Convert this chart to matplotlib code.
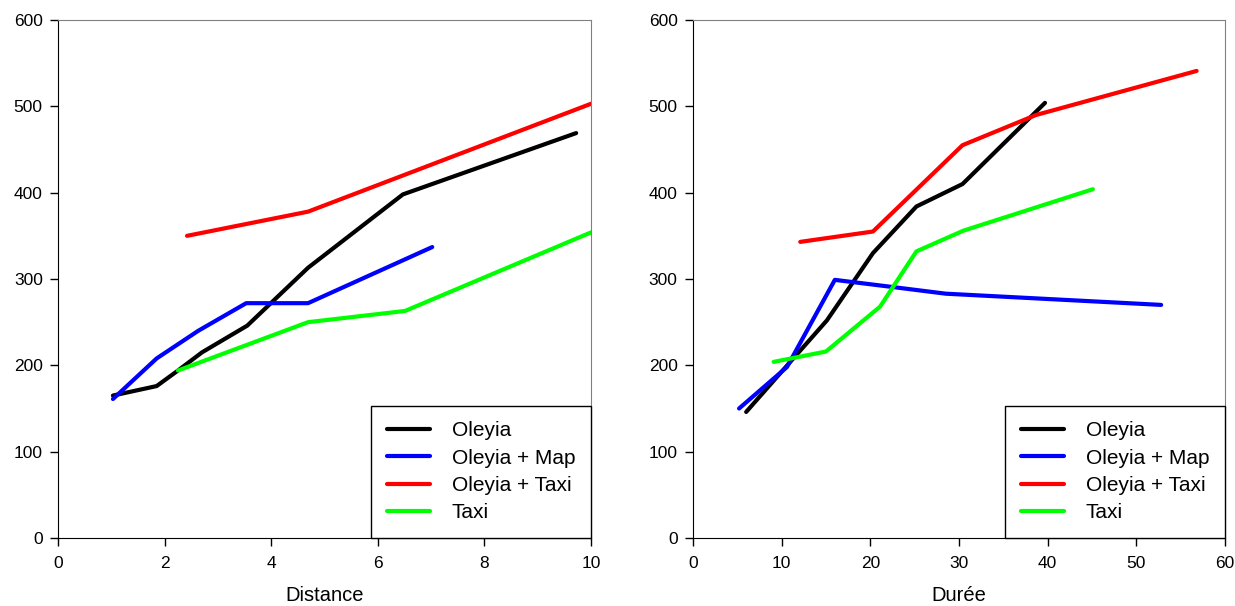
import matplotlib
matplotlib.use('Agg')
import matplotlib.pyplot as plt

plt.rcParams['font.family'] = ['Liberation Sans', 'DejaVu Sans']

# left panel: Distance
oleyia_dist_x = [1.03, 1.85, 2.25, 2.7, 3.55, 4.69, 6.47, 9.72]
oleyia_dist_y = [165, 176, 194, 215, 246, 313, 398, 469]
map_dist_x = [1.03, 1.85, 2.63, 3.53, 4.69, 7.02]
map_dist_y = [161, 208, 240, 272, 272, 337]
taxi_oleyia_dist_x = [2.42, 4.69, 10.0]
taxi_oleyia_dist_y = [350, 378, 503]
taxi_dist_x = [2.25, 4.69, 6.51, 10.0]
taxi_dist_y = [194, 250, 263, 354]

# right panel: Durée
oleyia_dur_x = [6.0, 10.2, 15.1, 20.3, 25.2, 30.4, 39.7]
oleyia_dur_y = [146, 195, 252, 330, 384, 410, 504]
map_dur_x = [5.2, 10.6, 16.0, 22.3, 28.5, 52.8]
map_dur_y = [150, 198, 299, 291, 283, 270]
taxi_oleyia_dur_x = [12.1, 20.3, 30.4, 38.7, 56.8]
taxi_oleyia_dur_y = [343, 355, 455, 490, 541]
taxi_dur_x = [9.1, 15.0, 21.1, 25.2, 30.5, 45.1]
taxi_dur_y = [204, 216, 268, 332, 356, 404]

labels = ['Oleyia', 'Oleyia + Map', 'Oleyia + Taxi', 'Taxi']
colors = ['black', 'blue', 'red', '#00ff00']


def draw_panel(ax, series, xmax, xstep, xlabel):
    for (xs, ys), lab, col in zip(series, labels, colors):
        ax.plot(xs, ys, color=col, linewidth=3, label=lab, solid_capstyle='round')
    ax.set_xlim(0, xmax)
    ax.set_ylim(0, 600)
    ax.set_xticks(range(0, xmax + 1, xstep))
    ax.set_yticks(range(0, 601, 100))
    ax.set_xlabel(xlabel, fontsize=14.5, labelpad=11)
    ax.tick_params(direction='out', length=6, width=1, labelsize=12.5, pad=5)
    ax.tick_params(axis='x', pad=7)
    for side in ['top', 'right']:
        ax.spines[side].set_color('#808080')
    for side in ['left', 'bottom']:
        ax.spines[side].set_color('black')
    leg = ax.legend(loc='lower right', fontsize=15, borderaxespad=0,
                    fancybox=False, framealpha=1, edgecolor='black',
                    handlelength=2.07, handletextpad=1.06, labelspacing=0.4,
                    borderpad=0.75)
    leg.get_frame().set_linewidth(1)


fig = plt.figure(figsize=(12.35, 6.06), dpi=100)
ax1 = fig.add_axes([0.047, 0.1122, 0.4316, 0.8548])
ax2 = fig.add_axes([0.5611, 0.1122, 0.4308, 0.8548])

draw_panel(ax1, [(oleyia_dist_x, oleyia_dist_y), (map_dist_x, map_dist_y),
                 (taxi_oleyia_dist_x, taxi_oleyia_dist_y), (taxi_dist_x, taxi_dist_y)],
           10, 2, 'Distance')
draw_panel(ax2, [(oleyia_dur_x, oleyia_dur_y), (map_dur_x, map_dur_y),
                 (taxi_oleyia_dur_x, taxi_oleyia_dur_y), (taxi_dur_x, taxi_dur_y)],
           60, 10, 'Durée')

fig.savefig('out.png', dpi=100)
